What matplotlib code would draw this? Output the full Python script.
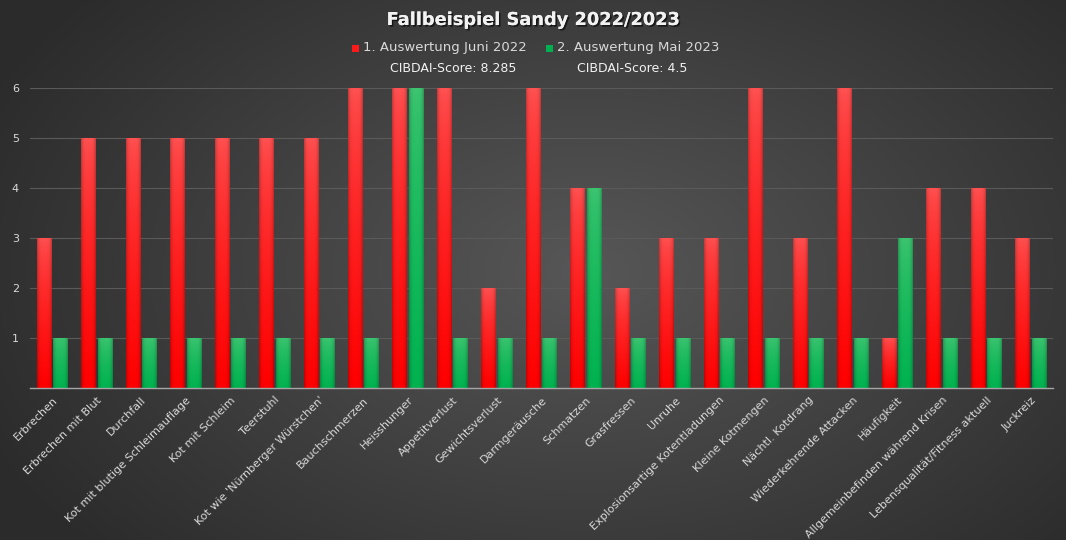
import numpy as np
import matplotlib
matplotlib.use("Agg")
import matplotlib.pyplot as plt
from matplotlib.patches import Rectangle
import matplotlib.patheffects as pe

categories = ["Erbrechen", "Erbrechen mit Blut", "Durchfall", "Kot mit blutige Schleimauflage",
              "Kot mit Schleim", "Teerstuhl", "Kot wie 'Nürnberger Würstchen'", "Bauchschmerzen",
              "Heisshunger", "Appetitverlust", "Gewichtsverlust", "Darmgeräusche", "Schmatzen",
              "Grasfressen", "Unruhe", "Explosionsartige Kotentladungen", "Kleine Kotmengen",
              "Nächtl. Kotdrang", "Wiederkehrende Attacken", "Häufigkeit",
              "Allgemeinbefinden während Krisen", "Lebensqualität/Fitness aktuell", "Juckreiz"]
juni_2022 = [3, 5, 5, 5, 5, 5, 5, 6, 6, 6, 2, 6, 4, 2, 3, 3, 6, 3, 6, 1, 4, 4, 3]
mai_2023 = [1, 1, 1, 1, 1, 1, 1, 1, 6, 1, 1, 1, 4, 1, 1, 1, 1, 1, 1, 3, 1, 1, 1]
series_names = ["1. Auswertung Juni 2022", "2. Auswertung Mai 2023"]
scores = ["CIBDAI-Score: 8.285", "CIBDAI-Score: 4.5"]
title = "Fallbeispiel Sandy 2022/2023"
yticks = [1, 2, 3, 4, 5, 6]

plt.rcParams['font.family'] = ['DejaVu Sans']
W, H = 1066, 540
fig = plt.figure(figsize=(W / 100, H / 100), dpi=100)

# background radial gradient
bg = fig.add_axes([0, 0, 1, 1], zorder=-10)
yy, xx = np.mgrid[0:H, 0:W]
r = np.sqrt(((xx - W * 0.55) / (W * 0.62)) ** 2 + ((yy - H * 0.5) / (H * 0.78)) ** 2)
r = np.clip(r, 0, 1)
c_in, c_out = 0.34, 0.17
val = c_in + (c_out - c_in) * r
bg.imshow(np.dstack([val, val, val]), aspect='auto', extent=(0, 1, 0, 1), origin='upper')
bg.set_axis_off()

ax = fig.add_axes([30 / W, 1 - 388 / H, (1053 - 30) / W, (388 - 88) / H])
ax.patch.set_alpha(0)

x = np.arange(len(categories))
w = 0.33
off = 0.185
red_bars = ax.bar(x - off, juni_2022, width=w, color="#ff1a1a", zorder=3)
green_bars = ax.bar(x + off, mai_2023, width=w, color="#00b050", zorder=3)

def shade(bars, top_rgb, bot_rgb):
    top = np.array(top_rgb); bot = np.array(bot_rgb)
    for b in bars:
        x0, y0 = b.get_x(), b.get_y()
        bw, bh = b.get_width(), b.get_height()
        n = 64
        frac = np.linspace(0, 1, n)[:, None] ** 0.7
        img = top[None, None, :] * (1 - frac[..., None]) + bot[None, None, :] * frac[..., None]
        hx = np.linspace(-1, 1, 16)
        edge = 1 - 0.22 * np.abs(hx) ** 4
        img = np.repeat(img, 16, axis=1) * edge[None, :, None]
        im = ax.imshow(img, extent=(x0, x0 + bw, y0, y0 + bh), aspect='auto',
                       origin='upper', zorder=4, interpolation='bilinear')
        im.set_clip_path(b)

shade(red_bars, (1.0, 0.32, 0.32), (1.0, 0.0, 0.0))
shade(green_bars, (0.24, 0.77, 0.44), (0.0, 0.70, 0.31))

ax.set_xlim(-0.5, len(categories) - 0.5)
ax.set_ylim(0, 6)
ax.set_yticks(yticks)
ax.set_yticklabels([str(t) for t in yticks])
ax.yaxis.grid(True, color="#5a5a5a", linewidth=0.8, zorder=0)
ax.set_axisbelow(True)
for s in ["top", "right", "left"]:
    ax.spines[s].set_visible(False)
ax.spines["bottom"].set_color("#a6a6a6")
ax.spines["bottom"].set_linewidth(1.0)
ax.spines["bottom"].set_zorder(5)
ax.tick_params(axis='y', length=0, colors="#d9d9d9", labelsize=8, pad=8)
ax.tick_params(axis='x', length=0, colors="#d9d9d9", labelsize=8, pad=5)
ax.set_xticks(x)
ax.set_xticklabels(categories, rotation=45, ha='right', va='top', rotation_mode='anchor')

# title
fig.text(533 / W, 1 - 20 / H, title, ha='center', va='center', fontsize=12.8,
         fontweight='bold', color="#f2f2f2",
         path_effects=[pe.withSimplePatchShadow(offset=(1.2, -1.2), shadow_rgbFace='black', alpha=0.6),
                       pe.Normal()])

# legend
legend_items = [(352, 363, 453, "#ff1a1a"), (546, 557, 632, "#00b050")]
for (mx, tx, sx, col), name, sc in zip(legend_items, series_names, scores):
    fig.patches.append(Rectangle((mx / W, 1 - 52 / H), 7 / W, 7 / H, transform=fig.transFigure,
                                 facecolor=col, edgecolor='none'))
    fig.text(tx / W, 1 - 48 / H, name, ha='left', va='center', fontsize=9.5, color="#d9d9d9")
    fig.text(sx / W, 1 - 68 / H, sc, ha='center', va='center', fontsize=9, color="#f2f2f2")

fig.savefig("out.png", dpi=100)
